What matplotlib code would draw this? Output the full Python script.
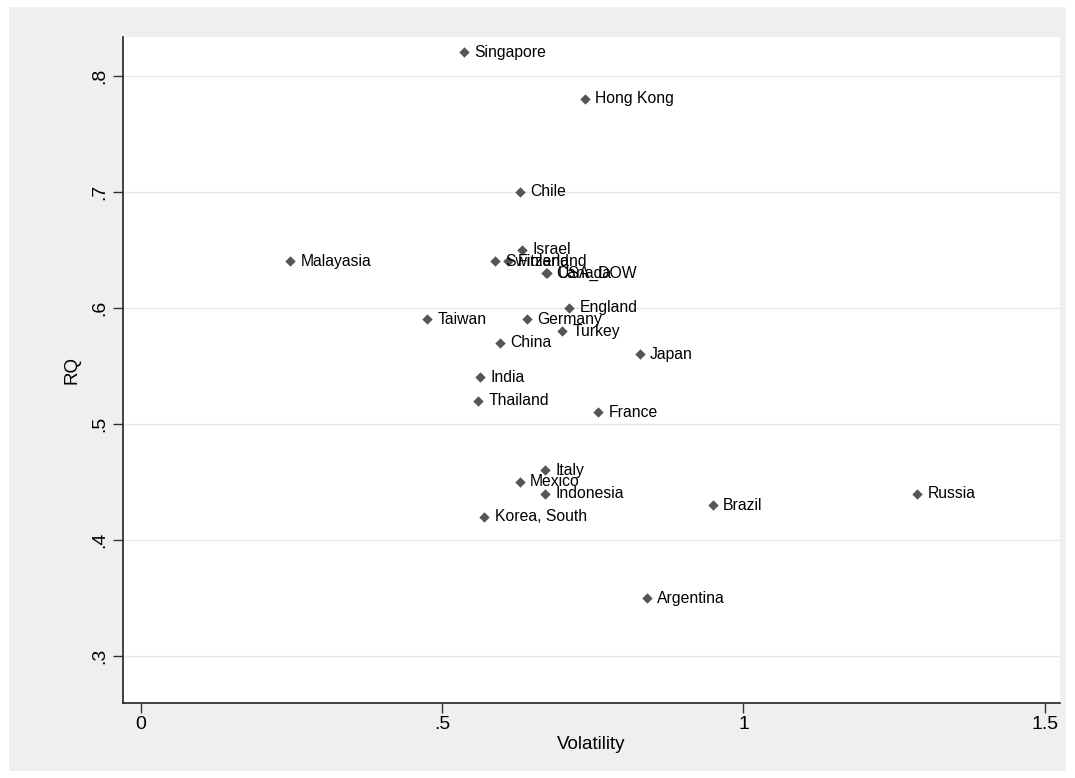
import matplotlib
matplotlib.use('Agg')
from matplotlib import pyplot as plt
from matplotlib.patches import Rectangle

countries = ['Singapore', 'Hong Kong', 'Chile', 'Israel', 'Malayasia', 'Switzerland',
             'Finland', 'Canada', 'USA_DOW', 'England', 'Taiwan', 'Germany', 'Turkey',
             'China', 'Japan', 'India', 'Thailand', 'France', 'Italy', 'Mexico',
             'Indonesia', 'Korea, South', 'Brazil', 'Russia', 'Argentina']
volatility = [0.536, 0.737, 0.629, 0.633, 0.248, 0.588,
              0.609, 0.672, 0.674, 0.711, 0.475, 0.641, 0.699,
              0.596, 0.828, 0.563, 0.560, 0.759, 0.671, 0.629,
              0.671, 0.570, 0.949, 1.288, 0.840]
rq = [0.82, 0.78, 0.70, 0.65, 0.64, 0.64,
      0.64, 0.63, 0.63, 0.60, 0.59, 0.59, 0.58,
      0.57, 0.56, 0.54, 0.52, 0.51, 0.46, 0.45,
      0.44, 0.42, 0.43, 0.44, 0.35]

xticks = [0, 0.5, 1, 1.5]
xticklabels = ['0', '.5', '1', '1.5']
yticks = [0.3, 0.4, 0.5, 0.6, 0.7, 0.8]
yticklabels = ['.3', '.4', '.5', '.6', '.7', '.8']

plt.rcParams['font.family'] = ['Liberation Sans', 'DejaVu Sans']

fig = plt.figure(figsize=(10.75, 7.78), dpi=100, facecolor='white')
fig.patches.append(Rectangle((9 / 1075, 1 - 771 / 778), 1057 / 1075, 764 / 778,
                             transform=fig.transFigure, facecolor='#efefef',
                             edgecolor='none', zorder=-1))
ax = fig.add_axes([0.114, 0.097, 0.872, 0.855])
ax.set_facecolor('white')

ax.scatter(volatility, rq, marker='D', s=28, color='#555555', zorder=3, linewidths=0)
for name, x, y in zip(countries, volatility, rq):
    ax.annotate(name, (x, y), xytext=(7.5, 0), textcoords='offset points',
                va='center', ha='left', fontsize=11.3, color='black')

ax.set_xlim(-0.03, 1.525)
ax.set_ylim(0.26, 0.833)
ax.set_xticks(xticks)
ax.set_xticklabels(xticklabels, fontsize=14)
ax.set_yticks(yticks)
ax.set_yticklabels(yticklabels, fontsize=14, rotation=90, va='center')
ax.tick_params(axis='both', length=7, width=1, color='#333333', pad=3)
ax.grid(axis='y', color='#e8e8e8', linewidth=1)
ax.set_axisbelow(True)
for s in ['top', 'right']:
    ax.spines[s].set_visible(False)
for s in ['left', 'bottom']:
    ax.spines[s].set_color('#222222')
    ax.spines[s].set_linewidth(1.2)

ax.set_xlabel('Volatility', fontsize=13.5, labelpad=2)
ax.set_ylabel('RQ', fontsize=13.5, labelpad=8)

plt.savefig('out.png', dpi=100, facecolor=fig.get_facecolor())
